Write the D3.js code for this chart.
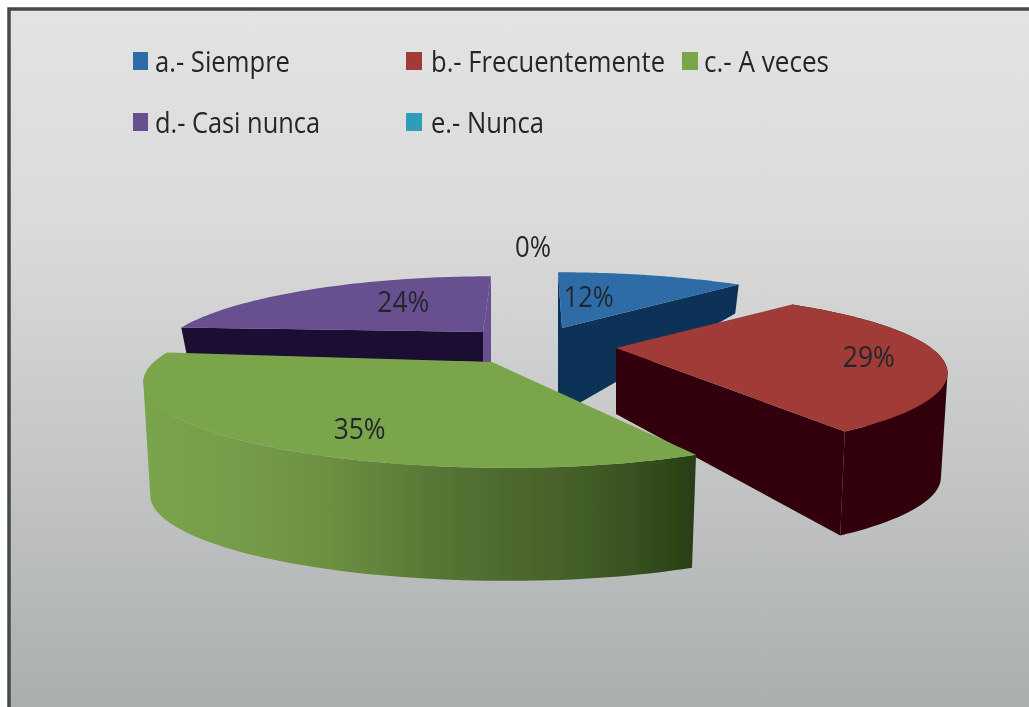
<!DOCTYPE html>
<html><head><meta charset="utf-8">
<style>html,body{margin:0;padding:0;background:#fff}svg{display:block}
text{font-family:"Open Sans",sans-serif;fill:#23282b}</style>
<script src="https://cdn.jsdelivr.net/npm/d3@7/dist/d3.min.js"></script></head><body>
<svg id="c" width="1029" height="707"></svg>
<script>
const categories=["a.- Siempre","b.- Frecuentemente","c.- A veces","d.- Casi nunca","e.- Nunca"];
const values=[12,29,35,24,0];
const colors=["#2e6ca8","#a03a38","#7aa54b","#67508f","#2f9db8"];
const cutColors=["#0f3358","#300008","#2a3d15","#1a0c33","#2f9db8"];

// projection parameters of the exploded 3D pie, one entry per slice
const apexX=[562,616,492,483,533], apexY=[328,348,362,332,330];
const radiusK=[.99,.97,1.02,.95,1], heightApex=[85,66,113,30,0], heightRim=[29,104,113,30,0];
const skew=[0,0,5,0,0], lean=[-4,0,0,8,0], startNudge=[0,0,6,0,0];
const labelR=[.5,.72,.62,.62,1.5], labelDx=[-24,22,-7,33,0], labelDy=[-2,3,21,-2,-9];
const legendWidth=[135,234,125,165,113], labelWidth=[50,52,52,52,36];

const W=1029,H=707,T=.31;
const xS=d3.scaleLinear().domain([-1,1]).range([-325,325]);
const yS=d3.scaleLinear().domain([-1,1]).range([-73,73]);
const svg=d3.select("#c");
const defs=svg.append("defs");
const f=defs.append("filter").attr("id","soft").attr("x","-5%").attr("y","-5%").attr("width","110%").attr("height","110%");
f.append("feGaussianBlur").attr("stdDeviation",.75);
const bg=defs.append("linearGradient").attr("id","bg").attr("x1",0).attr("y1",0).attr("x2",0).attr("y2",1);
[[0,"#e3e4e2"],[.3,"#d9dad9"],[.6,"#c6c8c8"],[1,"#a7abac"]].forEach(d=>bg.append("stop").attr("offset",d[0]).attr("stop-color",d[1]));
const gw=defs.append("linearGradient").attr("id","greenWall").attr("gradientUnits","userSpaceOnUse")
  .attr("x1",143).attr("x2",697).attr("y1",0).attr("y2",0);
[[0,"#7aa54b"],[.17,"#769c49"],[.35,"#6b8e41"],[.55,"#547434"],[.75,"#476229"],[.9,"#36501f"],[1,"#283c14"]]
  .forEach(d=>gw.append("stop").attr("offset",d[0]).attr("stop-color",d[1]));

const root=svg.append("g").attr("filter","url(#soft)");
root.append("rect").attr("x",9).attr("y",9).attr("width",W+20).attr("height",H+20)
  .attr("fill","url(#bg)").attr("stroke","#45494a").attr("stroke-width",3.5);

// legend
const legX=[133,406,682,133,406], legY=[52,52,52,113,113];
const leg=root.append("g").selectAll("g").data(categories).join("g")
  .attr("transform",(d,i)=>`translate(${legX[i]},${legY[i]})`);
leg.append("rect").attr("width",(d,i)=>i==0||i==3?15:16).attr("height",18).attr("fill",(d,i)=>colors[i]);
leg.append("text").attr("x",(d,i)=>i==1||i==4?25:22).attr("y",20).attr("font-size",29)
  .attr("textLength",(d,i)=>legendWidth[i]).attr("lengthAdjust","spacingAndGlyphs").text(d=>d);

const pie=d3.pie().sort(null).startAngle(0).endAngle(2*Math.PI);
const arcs=pie(values);
function P(i,ang,r){
  const X=r*Math.sin(ang),Y=-r*Math.cos(ang),p=1/(1-T*Y),k=radiusK[i];
  return [apexX[i]+xS(X)*p*k+(Y<0?lean[i]*-Y:0)*(r>=1?1:r), apexY[i]+yS(Y)*p+skew[i]*X];
}
const line=d3.line();
const drawOrder=[3,0,1,2];
const hAt=(i,r)=>heightApex[i]+(heightRim[i]-heightApex[i])*r;
function down(i,pt,r){const c=apexX[i];return [pt[0]-(pt[0]-c)*.02*r,pt[1]+hAt(i,r)];}
const pieG=root.append("g");
drawOrder.forEach(i=>{
  const a0=arcs[i].startAngle+startNudge[i]*Math.PI/180,a1=arcs[i].endAngle;
  const g=pieG.append("g");
  const apex=P(i,0,0),apexB=down(i,apex,0);
  const rimPts=d3.range(0,81).map(t=>P(i,a0+(a1-a0)*t/80,1));
  if(i==3||i==0){ // strip at the rear edge running towards the back
    const rt=i==3?rimPts[80]:rimPts[0];
    g.append("path").attr("d",line([apex,rt,[rt[0],apexB[1]],apexB])+"Z").attr("fill",i==3?colors[i]:cutColors[i]);
  }
  const cutAng=i==3?a0:a1;
  if(i!=2){
    const rp=P(i,cutAng,1);
    g.append("path").attr("d",line([apex,rp,down(i,rp,1),apexB])+"Z").attr("fill",cutColors[i]);
  }
  if(i==1||i==2){ // outer wall: all facets in one path, wound the same way, so no seams
    const fill=i==2?"url(#greenWall)":cutColors[i];
    const d=d3.pairs(rimPts).map(([p,q])=>{
      const quad=[p,q,down(i,q,1),down(i,p,1)];
      if(d3.polygonArea(quad)<0) quad.reverse();
      return line(quad)+"Z";
    }).join("");
    g.append("path").attr("d",d).attr("fill",fill);
  }
  g.append("path").attr("d",line([apex].concat(rimPts))+"Z").attr("fill",colors[i]);
});

// data labels
const labelG=root.append("g");
arcs.forEach((a,i)=>{
  const m=(a.startAngle+a.endAngle)/2;
  const pos=P(i,m,labelR[i]);
  labelG.append("text").attr("x",pos[0]+labelDx[i]-labelWidth[i]/2).attr("y",pos[1]+labelDy[i]+11)
    .attr("font-size",30).attr("textLength",labelWidth[i]).attr("lengthAdjust","spacingAndGlyphs")
    .text(d3.format(".0%")(values[i]/d3.sum(values)));
});
</script></body></html>
